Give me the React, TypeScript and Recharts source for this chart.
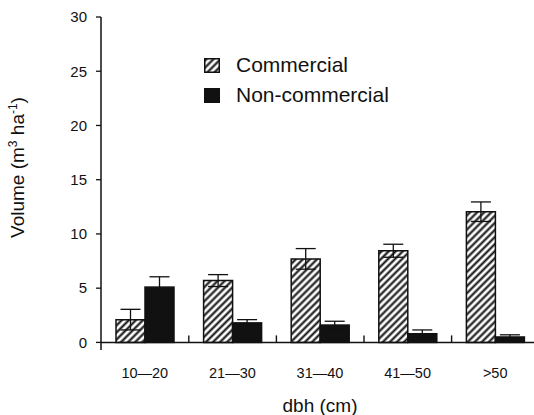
import React from "react";
import { BarChart, Bar, XAxis, YAxis, ErrorBar, Legend, ReferenceLine, Rectangle } from "recharts";

const CATEGORIES = ["10—20", "21—30", "31—40", "41—50", ">50"];
const COMMERCIAL = [2.1, 5.7, 7.7, 8.45, 12.05];
const COMMERCIAL_ERR = [0.95, 0.55, 0.95, 0.6, 0.9];
const NON_COMMERCIAL = [5.1, 1.8, 1.6, 0.8, 0.5];
const NON_COMMERCIAL_ERR = [0.95, 0.3, 0.35, 0.35, 0.2];
const Y_TICKS = [0, 5, 10, 15, 20, 25, 30];

const INK = "#111";
const FONT = "'Liberation Sans', Arial, Helvetica, sans-serif";
const Y_MIN = -0.7;
const Y_MAX = 30;

const CHART_W = 539;
const CHART_H = 415;
const TOP = 17;
const Y_AXIS_W = 101;
const X_AXIS_H = 65;

const data = CATEGORIES.map((name, i) => ({
  name,
  commercial: COMMERCIAL[i],
  commercialErr: COMMERCIAL_ERR[i],
  nonCommercial: NON_COMMERCIAL[i],
  nonCommercialErr: NON_COMMERCIAL_ERR[i],
}));

function HatchPattern({ id }: { id: string }) {
  return (
    <pattern id={id} patternUnits="userSpaceOnUse" width={5} height={5} patternTransform="rotate(45)">
      <rect width={5} height={5} fill="#fff" />
      <line x1={2.5} y1={0} x2={2.5} y2={5} stroke={INK} strokeWidth={2.1} />
    </pattern>
  );
}

function YLabel(props: any) {
  const vb = props.viewBox || { x: 0, y: 0, width: 0, height: 0 };
  const cx = vb.x + 24;
  const cy = vb.y + vb.height / 2 - 16;
  return (
    <text
      x={cx}
      y={cy}
      transform={`rotate(-90 ${cx} ${cy})`}
      textAnchor="middle"
      fontSize={19}
      fill={INK}
      fontFamily={FONT}
    >
      Volume (m
      <tspan dy={-7} fontSize={12}>3</tspan>
      <tspan dy={7}> ha</tspan>
      <tspan dy={-7} fontSize={12}>-1</tspan>
      <tspan dy={7}>)</tspan>
    </text>
  );
}

// black bar, plus the short upward tick on the zero line at the right edge of its class
// (the last class edge falls outside the visible area)
function NonCommercialShape(props: any) {
  const x = Number(props.x);
  const y = Number(props.y);
  const w = Number(props.width);
  const h = Number(props.height);
  const band = (CHART_W - Y_AXIS_W) / CATEGORIES.length;
  const zero = y + h;
  const edgeX = x + band / 2;
  return (
    <g>
      <rect x={x} y={y} width={w} height={h} fill={INK} stroke={INK} strokeWidth={1.5} />
      <path d={`M${edgeX},${zero}V${zero - 7}`} stroke={INK} strokeWidth={1.4} fill="none" />
    </g>
  );
}

function LegendContent(props: any) {
  const payload = props.payload || [];
  return (
    <div style={{ fontFamily: FONT, fontSize: 21, color: INK }}>
      {payload.map((entry: any) => (
        <div key={entry.value} style={{ display: "flex", alignItems: "center", height: 30 }}>
          <svg width={16} height={15} style={{ display: "block" }}>
            <defs>
              <HatchPattern id="legend-hatch" />
            </defs>
            <rect
              x={0.75}
              y={0.75}
              width={14.5}
              height={13.5}
              fill={entry.dataKey === "commercial" ? "url(#legend-hatch)" : INK}
              stroke={INK}
              strokeWidth={1.5}
            />
          </svg>
          <span style={{ marginLeft: 16, lineHeight: "30px" }}>{entry.value}</span>
        </div>
      ))}
    </div>
  );
}

export default function App() {
  return (
    <div
      style={{
        position: "fixed",
        left: 0,
        top: 0,
        width: 534,
        height: 415,
        overflow: "hidden",
        background: "#fff",
        fontFamily: FONT,
      }}
    >
      <BarChart
        width={CHART_W}
        height={CHART_H}
        data={data}
        margin={{ top: TOP, right: 0, bottom: 0, left: 0 }}
        barGap={0}
      >
        <defs>
          <HatchPattern id="hatch" />
        </defs>
        <XAxis
          dataKey="name"
          interval={0}
          axisLine={false}
          tickLine={false}
          tickSize={0}
          tickMargin={18}
          height={X_AXIS_H}
          tick={{ fontSize: 14.5, fill: INK, fontFamily: FONT }}
          label={{ value: "dbh (cm)", position: "insideBottom", offset: 3, fontSize: 19, fill: INK, fontFamily: FONT }}
        />
        <YAxis
          domain={[Y_MIN, Y_MAX]}
          ticks={Y_TICKS}
          allowDataOverflow
          width={Y_AXIS_W}
          tickSize={5}
          tickMargin={9}
          axisLine={{ stroke: INK, strokeWidth: 1.5 }}
          tickLine={{ stroke: INK, strokeWidth: 1.3 }}
          tick={{ fontSize: 15, fill: INK, fontFamily: FONT }}
          label={{ content: YLabel }}
        />
        <Legend
          layout="vertical"
          align="center"
          verticalAlign="middle"
          content={LegendContent}
          wrapperStyle={{ top: 50, left: 204, width: "auto" }}
        />
        <Bar
          dataKey="commercial"
          name="Commercial"
          fill="url(#hatch)"
          stroke={INK}
          strokeWidth={1.5}
          barSize={29}
          isAnimationActive={false}
        >
          <ErrorBar dataKey="commercialErr" width={10} stroke={INK} strokeWidth={1.3} isAnimationActive={false} />
        </Bar>
        <Bar
          dataKey="nonCommercial"
          name="Non-commercial"
          fill={INK}
          barSize={29}
          shape={NonCommercialShape}
          isAnimationActive={false}
        >
          <ErrorBar dataKey="nonCommercialErr" width={10} stroke={INK} strokeWidth={1.3} isAnimationActive={false} />
        </Bar>
        <ReferenceLine y={0} stroke={INK} strokeWidth={1.5} />
      </BarChart>
    </div>
  );
}
